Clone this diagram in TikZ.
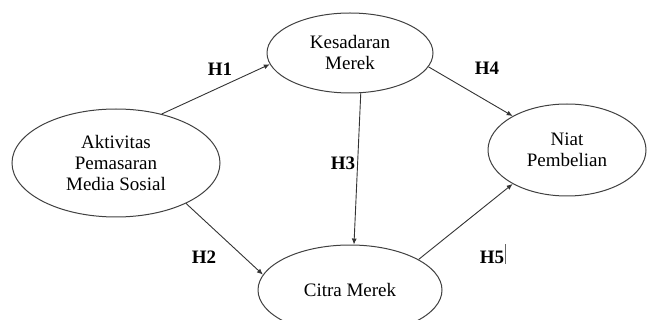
\documentclass[tikz,border=0pt]{standalone}
\usepackage{fontspec}
\setmainfont{Liberation Serif}
\usetikzlibrary{shapes.geometric,arrows.meta}

\tikzset{
    var/.style={draw=black!75, line width=1pt, ellipse, inner sep=0pt,
        align=center, font=\fontsize{19}{21}\selectfont},
    hyp/.style={font=\fontsize{19}{21}\selectfont\bfseries},
    path/.style={draw=black!80, line width=0.9pt, -{Latex[length=6pt,width=5pt]}}
}

\begin{document}
\begin{tikzpicture}[x=1pt, y=-1pt]
    \useasboundingbox (0, 0) rectangle (647, 320);

    \node[var, minimum width=208, minimum height=108] (akt) at (116, 163)
        {Aktivitas\\Pemasaran\\Media Sosial};
    \node[var, minimum width=166, minimum height=80] (kes) at (350, 53)
        {Kesadaran\\Merek};
    \node[var, minimum width=184, minimum height=90] (citra) at (350, 290)
        {Citra Merek};
    \node[var, minimum width=158, minimum height=92] (niat) at (567, 150)
        {Niat\\Pembelian};

    \draw[path] (akt.47) -- (kes.188);
    \draw[path] (akt.-30) -- (citra.170);
    \draw[path] (kes.-75) -- (citra.85);
    \draw[path] (kes.-10) -- (niat.148);
    \draw[path] (citra.24) -- (niat.-148);

    \node[hyp] (h1) at (220, 69) {H1};
    \node[hyp] (h2) at (204, 257) {H2};
    \node[hyp] (h3) at (343, 163) {H3};
    \node[hyp] (h4) at (487, 68) {H4};
    \node[hyp] (h5) at (492, 257) {H5};
    \draw[black!60, line width=0.6pt] (505, 244) -- (505, 264);
\end{tikzpicture}
\end{document}
